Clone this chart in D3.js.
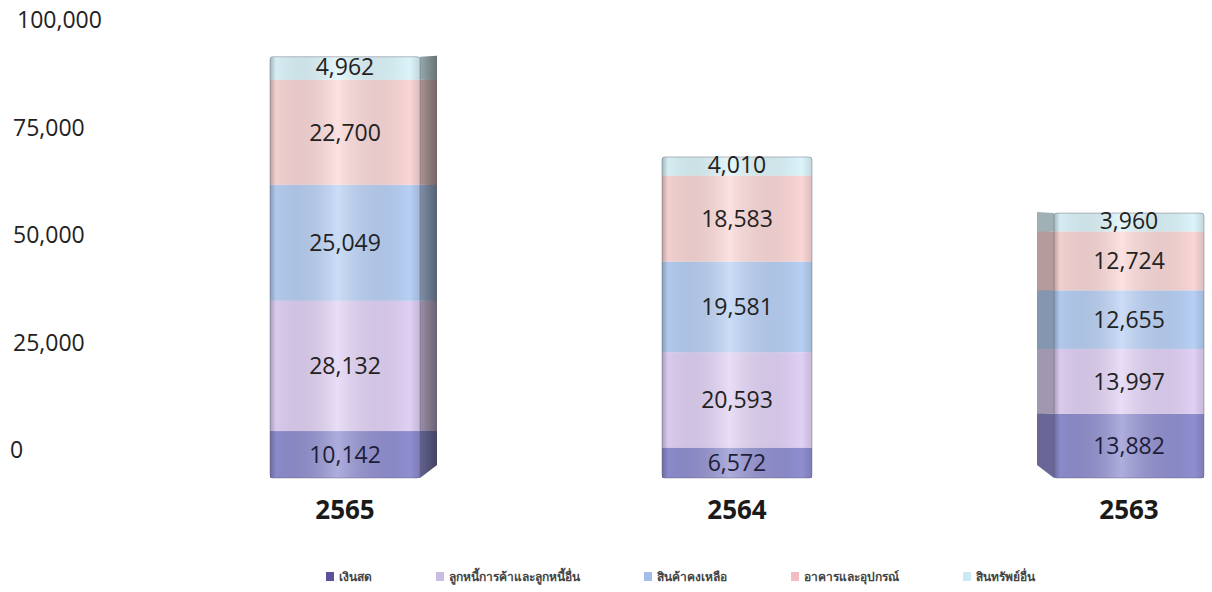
<!DOCTYPE html>
<html>
<head>
<meta charset="utf-8">
<script src="https://cdn.jsdelivr.net/npm/d3@7"></script>
<style>
  body { margin: 0; background: #fff; }
  svg { display: block; }
  text { font-family: "Open Sans", "Noto Sans", "DejaVu Sans", sans-serif; }
</style>
</head>
<body>
<div id="chart"></div>
<script>
// data
var years = ["2565", "2564", "2563"];
var seriesNames = ["เงินสด", "ลูกหนี้การค้าและลูกหนี้อื่น", "สินค้าคงเหลือ", "อาคารและอุปกรณ์", "สินทรัพย์อื่น"];
var cash = [10142, 6572, 13882];
var receivables = [28132, 20593, 13997];
var inventory = [25049, 19581, 12655];
var buildings = [22700, 18583, 12724];
var otherAssets = [4962, 4010, 3960];
var yTicks = [0, 25000, 50000, 75000, 100000];

var faceColors = ["#8f8ed0", "#e0d0f4", "#b7cff4", "#fad6d6", "#dbf4fa"];
var legendColors = ["#5d519c", "#c9bde2", "#a3bfe9", "#f2bcc3", "#cbe9f5"];

var width = 1212, height = 592;
var svg = d3.select("#chart").append("svg")
    .attr("width", width)
    .attr("height", height);

var defs = svg.append("defs");
var shade = defs.append("linearGradient")
    .attr("id", "shade")
    .attr("x1", "0").attr("x2", "1").attr("y1", "0").attr("y2", "0");
[[0, "#000", 0.25], [0.04, "#000", 0.03], [0.45, "#fff", 0.28], [0.93, "#000", 0.0], [1, "#000", 0.12]]
    .forEach(function (s) {
        shade.append("stop").attr("offset", s[0]).attr("stop-color", s[1]).attr("stop-opacity", s[2]);
    });
// side shading: darker towards the outer edge
var sideShade = defs.append("linearGradient")
    .attr("id", "sideShade")
    .attr("x1", "0").attr("x2", "1").attr("y1", "0").attr("y2", "0");
sideShade.append("stop").attr("offset", 0).attr("stop-color", "#000").attr("stop-opacity", 0.05);
sideShade.append("stop").attr("offset", 1).attr("stop-color", "#000").attr("stop-opacity", 0.35);

// scales
var x = d3.scalePoint().domain(years).range([345, 1129]);
var y = d3.scaleLinear().domain([0, 100000]).range([478, 15]);
var yLabel = d3.scaleLinear().domain([0, 100000]).range([450, 20]);
var barW = 150;
var midX = (x.range()[0] + x.range()[1]) / 2;

// stack
var rows = years.map(function (yr, i) {
    return { year: yr, s0: cash[i], s1: receivables[i], s2: inventory[i], s3: buildings[i], s4: otherAssets[i] };
});
var stack = d3.stack().keys(["s0", "s1", "s2", "s3", "s4"]);
var layers = stack(rows);

// y axis labels (no line)
svg.append("g").selectAll("text")
    .data(yTicks)
    .enter().append("text")
    .attr("x", function (d) { return d === 0 ? 10 : (d === 100000 ? 17 : 13); })
    .attr("y", function (d) { return yLabel(d); })
    .attr("dy", "0.35em")
    .attr("font-size", 23)
    .attr("fill", "#222")
    .text(d3.format(","));

// bars
years.forEach(function (yr, i) {
    var cx = x(yr);
    var depth = (midX - cx) / (x.step()) * 17;
    var left = cx - barW / 2, right = cx + barW / 2;
    var g = svg.append("g").attr("class", "bar");
    var top = y(layers[4][i][1]);
    var bottom = y(0);
    layers.forEach(function (layer, k) {
        var d = layer[i];
        var y0 = y(d[0]), y1 = y(d[1]);
        var col = faceColors[k];
        // side face
        if (Math.abs(depth) > 1) {
            var edge = depth > 0 ? right : left;
            var outer = edge + depth;
            var outerBottom = d[0] === 0 ? y0 - 13 : y0;
            g.append("polygon")
                .attr("points", [[edge, y1], [outer, y1 - 1], [outer, outerBottom], [edge, y0]].join(" "))
                .attr("fill", d3.color(col).darker(0.9));
        }
        g.append("rect")
            .attr("x", left).attr("y", y1)
            .attr("width", barW).attr("height", y0 - y1)
            .attr("fill", col);
    });
    if (Math.abs(depth) > 1) {
        var e = depth > 0 ? right : left;
        g.append("polygon")
            .attr("points", [[e, top], [e + depth, top - 1], [e + depth, bottom - 13], [e, bottom]].join(" "))
            .attr("fill", "url(#sideShade)")
            .attr("transform", depth < 0 ? "translate(" + (2 * e + depth) + ",0) scale(-1,1) translate(" + (-(2 * e + depth)) + ",0)" : null);
    }
    g.append("rect")
        .attr("x", left).attr("y", top)
        .attr("width", barW).attr("height", bottom - top)
        .attr("rx", 3)
        .attr("fill", "url(#shade)")
        .attr("stroke", "rgba(90,90,110,0.4)")
        .attr("stroke-width", 1);

    // value labels
    layers.forEach(function (layer, k) {
        var d = layer[i];
        var ym = (y(d[0]) + y(d[1])) / 2;
        if (k === 4) ym -= 2;
        g.append("text")
            .attr("x", cx).attr("y", ym)
            .attr("dy", "0.36em")
            .attr("text-anchor", "middle")
            .attr("font-size", 23)
            .attr("fill", k === 0 ? "#1e1e3a" : "#222")
            .text(d3.format(",")(d.data["s" + k]));
    });

    // category label
    svg.append("text")
        .attr("x", cx).attr("y", 510)
        .attr("dy", "0.36em")
        .attr("text-anchor", "middle")
        .attr("font-size", 26)
        .attr("font-weight", "bold")
        .attr("fill", "#1a1a1a")
        .text(yr);
});

// legend: items laid out with equal gaps between 326 and 963
var legend = svg.append("g").selectAll("g")
    .data(seriesNames)
    .enter().append("g");
legend.append("rect")
    .attr("x", 0).attr("y", -5)
    .attr("width", 8).attr("height", 9)
    .attr("fill", function (d, i) { return legendColors[i]; });
legend.append("text")
    .attr("x", 13).attr("y", 0)
    .attr("dy", "0.35em")
    .attr("font-size", 12)
    .attr("font-weight", "bold")
    .attr("fill", "#444")
    .text(function (d) { return d; });
var widths = [];
legend.select("text").each(function () { widths.push(13 + this.getComputedTextLength()); });
var firstX = 326, lastX = 963;
var gap = (lastX - firstX - d3.sum(widths.slice(0, 4))) / 4;
var pos = firstX;
legend.attr("transform", function (d, i) {
    var t = "translate(" + pos + ",577)";
    pos += widths[i] + gap;
    return t;
});
</script>
</body>
</html>
